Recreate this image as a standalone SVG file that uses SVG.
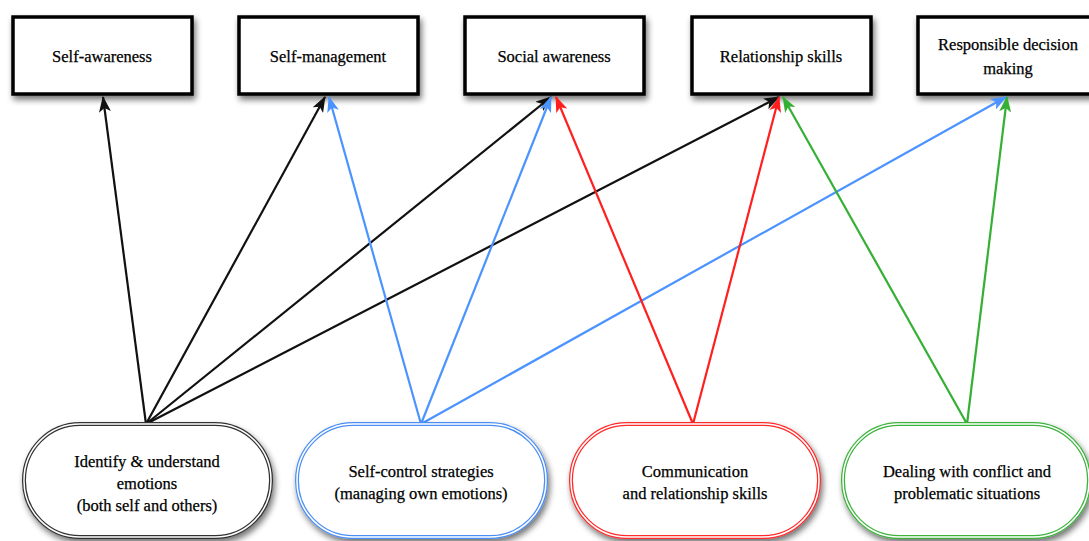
<svg xmlns="http://www.w3.org/2000/svg" width="1089" height="541" viewBox="0 0 1089 541">
  <style>
    text { font-family: "Liberation Serif", "DejaVu Serif", serif; font-size: 16.5px; fill: #000; stroke: #000; stroke-width: 0.25; text-anchor: middle; }
    .box { fill: #fff; stroke: #000; stroke-width: 3.5; filter: url(#shadow); }
    .pill-out { fill: #fff; stroke-width: 4; filter: url(#shadow); }
    .pill-gap { fill: none; stroke: #fff; stroke-width: 1.5; }
    .link { fill: none; stroke-width: 2.2; }
    .k { stroke: #111; }
    .b { stroke: #4b93ff; }
    .r { stroke: #ff1f1f; }
    .g { stroke: #35b035; }
  </style>
  <defs>
    <filter id="shadow" x="-10%" y="-10%" width="125%" height="135%">
      <feGaussianBlur in="SourceAlpha" stdDeviation="3"/>
      <feOffset dx="2" dy="4" result="blur"/>
      <feComponentTransfer><feFuncA type="linear" slope="0.55"/></feComponentTransfer>
      <feMerge><feMergeNode/><feMergeNode in="SourceGraphic"/></feMerge>
    </filter>
    <marker id="ak" viewBox="0 0 16 12" refX="15" refY="6" markerWidth="16" markerHeight="12" markerUnits="userSpaceOnUse" orient="auto">
      <path d="M0,0 L16,6 L0,12 L4,6 z" fill="#111"/>
    </marker>
    <marker id="ab" viewBox="0 0 16 12" refX="15" refY="6" markerWidth="16" markerHeight="12" markerUnits="userSpaceOnUse" orient="auto">
      <path d="M0,0 L16,6 L0,12 L4,6 z" fill="#4b93ff"/>
    </marker>
    <marker id="ar" viewBox="0 0 16 12" refX="15" refY="6" markerWidth="16" markerHeight="12" markerUnits="userSpaceOnUse" orient="auto">
      <path d="M0,0 L16,6 L0,12 L4,6 z" fill="#ff1f1f"/>
    </marker>
    <marker id="ag" viewBox="0 0 16 12" refX="15" refY="6" markerWidth="16" markerHeight="12" markerUnits="userSpaceOnUse" orient="auto">
      <path d="M0,0 L16,6 L0,12 L4,6 z" fill="#35b035"/>
    </marker>
  </defs>

  <!-- competency boxes -->
  <g id="self-awareness">
    <rect class="box" x="13" y="17" width="179" height="77"/>
    <text x="102" y="62">Self-awareness</text>
  </g>
  <g id="self-management">
    <rect class="box" x="239" y="17" width="179" height="77"/>
    <text x="328" y="62">Self-management</text>
  </g>
  <g id="social-awareness">
    <rect class="box" x="465" y="17" width="179" height="77"/>
    <text x="554" y="62">Social awareness</text>
  </g>
  <g id="relationship-skills">
    <rect class="box" x="692" y="17" width="179" height="77"/>
    <text x="781" y="62">Relationship skills</text>
  </g>
  <g id="responsible-decision-making">
    <rect class="box" x="918" y="17" width="179" height="77"/>
    <text x="1008" y="50">Responsible decision</text>
    <text x="1008" y="74">making</text>
  </g>

  <!-- skill links -->
  <g id="connectors">
    <line class="link k" x1="146" y1="424" x2="103" y2="97" marker-end="url(#ak)"/>
    <line class="link k" x1="146" y1="424" x2="325" y2="97" marker-end="url(#ak)"/>
    <line class="link k" x1="146" y1="424" x2="551" y2="97" marker-end="url(#ak)"/>
    <line class="link k" x1="146" y1="424" x2="779" y2="97" marker-end="url(#ak)"/>
    <line class="link b" x1="421" y1="424" x2="329" y2="97" marker-end="url(#ab)"/>
    <line class="link b" x1="421" y1="424" x2="551" y2="97" marker-end="url(#ab)"/>
    <line class="link b" x1="421" y1="424" x2="1006" y2="97" marker-end="url(#ab)"/>
    <line class="link r" x1="693" y1="424" x2="556" y2="97" marker-end="url(#ar)"/>
    <line class="link r" x1="693" y1="424" x2="779" y2="97" marker-end="url(#ar)"/>
    <line class="link g" x1="967" y1="424" x2="783" y2="97" marker-end="url(#ag)"/>
    <line class="link g" x1="967" y1="424" x2="1007" y2="97" marker-end="url(#ag)"/>
  </g>

  <!-- skill nodes -->
  <g id="identify-emotions">
    <rect class="pill-out" x="24" y="424" width="247" height="113" rx="56" stroke="#333"/>
    <rect class="pill-gap" x="24" y="424" width="247" height="113" rx="56"/>
    <text x="147" y="467">Identify &amp; understand</text>
    <text x="147" y="489">emotions</text>
    <text x="147" y="511">(both self and others)</text>
  </g>
  <g id="self-control">
    <rect class="pill-out" x="297" y="424" width="249" height="113" rx="56" stroke="#4b8ff5"/>
    <rect class="pill-gap" x="297" y="424" width="249" height="113" rx="56"/>
    <text x="421" y="477">Self-control strategies</text>
    <text x="421" y="499">(managing own emotions)</text>
  </g>
  <g id="communication">
    <rect class="pill-out" x="571" y="424" width="248" height="113" rx="56" stroke="#ff2a2a"/>
    <rect class="pill-gap" x="571" y="424" width="248" height="113" rx="56"/>
    <text x="695" y="477">Communication</text>
    <text x="695" y="499">and relationship skills</text>
  </g>
  <g id="conflict">
    <rect class="pill-out" x="843" y="424" width="246" height="113" rx="56" stroke="#3cb33c"/>
    <rect class="pill-gap" x="843" y="424" width="246" height="113" rx="56"/>
    <text x="967" y="477">Dealing with conflict and</text>
    <text x="967" y="499">problematic situations</text>
  </g>
</svg>
